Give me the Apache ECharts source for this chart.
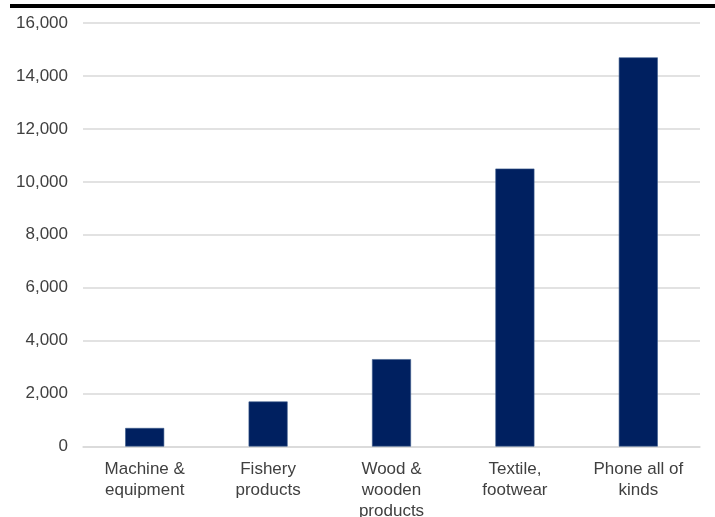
<!DOCTYPE html>
<html>
<head>
<meta charset="utf-8">
<script src="https://cdn.jsdelivr.net/npm/echarts@6/dist/echarts.min.js"></script>
<style>
  html, body { margin: 0; padding: 0; background: #fff; }
  #chart { width: 715px; height: 517px; }
</style>
</head>
<body>
<div id="chart"></div>
<script>
// Export value by product group
const categories = [
  'Machine &\nequipment',
  'Fishery\nproducts',
  'Wood &\nwooden\nproducts',
  'Textile,\nfootwear',
  'Phone all of\nkinds'
];
const values = [700, 1700, 3300, 10500, 14700];
const yTicks = { min: 0, max: 16000, interval: 2000 };

const chart = echarts.init(document.getElementById('chart'), null, { renderer: 'canvas' });

chart.setOption({
  animation: false,
  backgroundColor: '#ffffff',
  graphic: [
    {
      type: 'rect',
      shape: { x: 10, y: 4, width: 705, height: 4 },
      style: { fill: '#000000' }
    }
  ],
  grid: {
    left: 83, right: 15, top: 23, bottom: 70.5,
    containLabel: false,
    outerBoundsMode: 'none'
  },
  xAxis: {
    type: 'category',
    data: categories,
    axisLine: { show: true, lineStyle: { color: '#d9d9d9', width: 1.5 } },
    axisTick: { show: false },
    axisLabel: {
      color: '#404040',
      fontFamily: 'Liberation Sans, Arial, sans-serif',
      fontSize: 17,
      lineHeight: 21,
      margin: 12.5,
      interval: 0
    }
  },
  yAxis: {
    type: 'value',
    min: yTicks.min,
    max: yTicks.max,
    interval: yTicks.interval,
    axisLine: { show: false },
    axisTick: { show: false },
    splitLine: { lineStyle: { color: '#d9d9d9', width: 1.5 } },
    axisLabel: {
      color: '#404040',
      fontFamily: 'Liberation Sans, Arial, sans-serif',
      fontSize: 17,
      margin: 15,
      formatter: v => v.toLocaleString('en-US')
    }
  },
  series: [
    {
      type: 'bar',
      data: values,
      barWidth: 39,
      itemStyle: { color: '#002060', borderColor: '#3a5a8c', borderWidth: 0.6 }
    }
  ]
});
</script>
</body>
</html>
